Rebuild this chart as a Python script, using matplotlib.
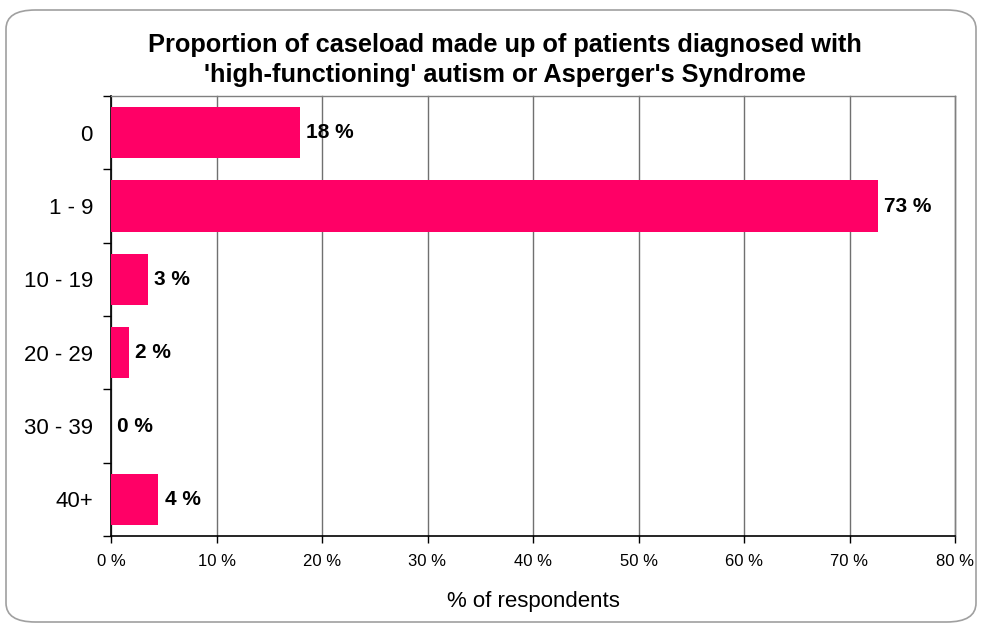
import matplotlib.pyplot as plt
from matplotlib.patches import FancyBboxPatch

plt.rcParams['font.family'] = ['Liberation Sans', 'DejaVu Sans']

# caseload groups and share of respondents (%)
categories = ["0", "1 - 9", "10 - 19", "20 - 29", "30 - 39", "40+"]
values = [17.9, 72.7, 3.5, 1.7, 0.0, 4.5]
value_labels = ["18 %", "73 %", "3 %", "2 %", "0 %", "4 %"]
x_ticks = [0, 10, 20, 30, 40, 50, 60, 70, 80]

fig = plt.figure(figsize=(9.81, 6.3), dpi=100)
ax = fig.add_axes([111 / 981, 1 - 536 / 630, 844 / 981, 440 / 630])

# rounded outer frame
frame = FancyBboxPatch((6 / 981, 8 / 630), 970 / 981, 612 / 630,
                       boxstyle="round,pad=0,rounding_size=0.03",
                       transform=fig.transFigure, facecolor="none",
                       edgecolor="#a0a0a0", linewidth=1.2)
fig.patches.append(frame)

pos = list(range(len(categories)))
ax.barh(pos, values, height=0.7, color="#ff0066", zorder=3)
for p, v, lab in zip(pos, values, value_labels):
    ax.text(v + 0.6, p, lab, va="center", ha="left", fontsize=15,
            fontweight="bold", zorder=4)

ax.set_xlim(0, 80)
ax.set_ylim(len(categories) - 0.5, -0.5)
ax.set_xticks(x_ticks)
ax.set_xticklabels([f"{t} %" for t in x_ticks], fontsize=12)
ax.set_yticks(pos)
ax.set_yticklabels(categories, fontsize=16)
ax.set_yticks([p + 0.5 for p in pos[:-1]] + [-0.5, len(categories) - 0.5], minor=True)
ax.tick_params(axis="y", which="major", length=0, pad=13)
ax.tick_params(axis="y", which="minor", length=6, width=1)
ax.tick_params(axis="x", length=5, width=1, pad=8)
ax.xaxis.grid(True, color="#707070", linewidth=1.0, zorder=0)
for line in ax.get_xgridlines():
    line.set_clip_on(False)
for s in ["top", "right"]:
    ax.spines[s].set_color("#808080")
    ax.spines[s].set_linewidth(1.0)
ax.spines["left"].set_linewidth(1.2)
ax.spines["bottom"].set_linewidth(1.2)
ax.set_xlabel("% of respondents", fontsize=16, labelpad=16)

fig.text(505 / 981, 1 - 60 / 630,
         "Proportion of caseload made up of patients diagnosed with\n'high-functioning' autism or Asperger's Syndrome",
         ha="center", va="center", fontsize=18.3, fontweight="bold", linespacing=1.32)

fig.savefig("out.png", dpi=100)
